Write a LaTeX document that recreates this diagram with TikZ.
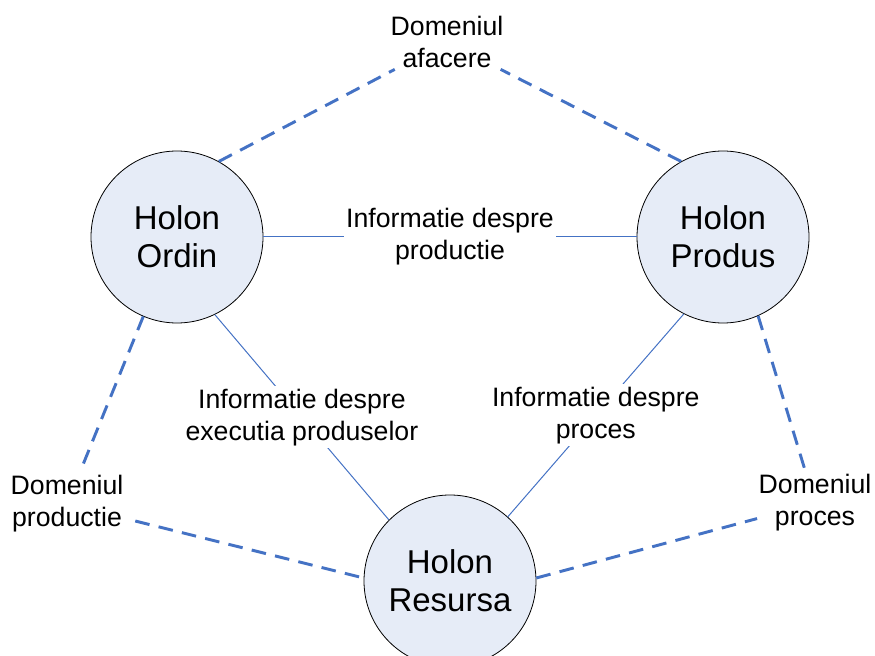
\documentclass[tikz,border=0pt]{standalone}
\usepackage{fontspec}
\setmainfont{Liberation Sans}
\usetikzlibrary{positioning}
\definecolor{holonfill}{RGB}{230,236,247}
\definecolor{linkblue}{RGB}{68,114,196}

\tikzset{
  holon/.style={circle, draw=black, line width=0.6pt, fill=holonfill, minimum size=129pt, inner sep=0pt, align=center, font=\fontsize{24.75}{28.5}\selectfont},
  domainbox/.style={align=center, inner sep=1pt, font=\fontsize{20}{24}\selectfont},
  info/.style={align=center, fill=white, inner sep=2pt, font=\fontsize{20}{24}\selectfont},
  domainlink/.style={draw=linkblue, line width=2.2pt, dash pattern=on 11pt off 7pt},
  infolink/.style={draw=linkblue, line width=0.75pt}
}

\begin{document}
\begin{tikzpicture}[node distance=2cm,on grid]
\useasboundingbox (0,0) rectangle (656.25pt,-492pt);
       \node[holon] (ordin) at (132.75pt,-177.75pt) {Holon\\Ordin};
        \node[holon] (produs) [right=409.5pt of ordin] {Holon\\Produs};
        \node[holon] (resursa) [below right=258pt and 204.75pt of ordin] {Holon\\Resursa};

        \node[domainbox] (afacere) [above right=146.25pt and 202.5pt of ordin] {Domeniul\\afacere};
        \node[domainbox] (productie) [below left=200.25pt and 82.5pt of ordin] {Domeniul\\productie};
        \node[domainbox] (proces) [below right=199.5pt and 69pt of produs] {Domeniul\\proces};

        \path[infolink]
        (ordin) edge node[info] {Informatie despre\\productie} (produs)
        (ordin.-64) edge node[info] {Informatie despre\\executia produselor} (resursa.135)
        (produs.-117) edge node[info] {Informatie despre\\proces} (resursa.48)
        ;

        \path[domainlink]
        (ordin.61) edge (afacere)
        (produs.119) edge (afacere)
        (ordin.-113) edge [shorten >=6pt] (productie)
        (productie) edge [shorten <=8pt] (resursa.178)
        (produs.-66) edge (proces)
        (resursa.2) edge (proces)
        ;
    \end{tikzpicture}
\end{document}
